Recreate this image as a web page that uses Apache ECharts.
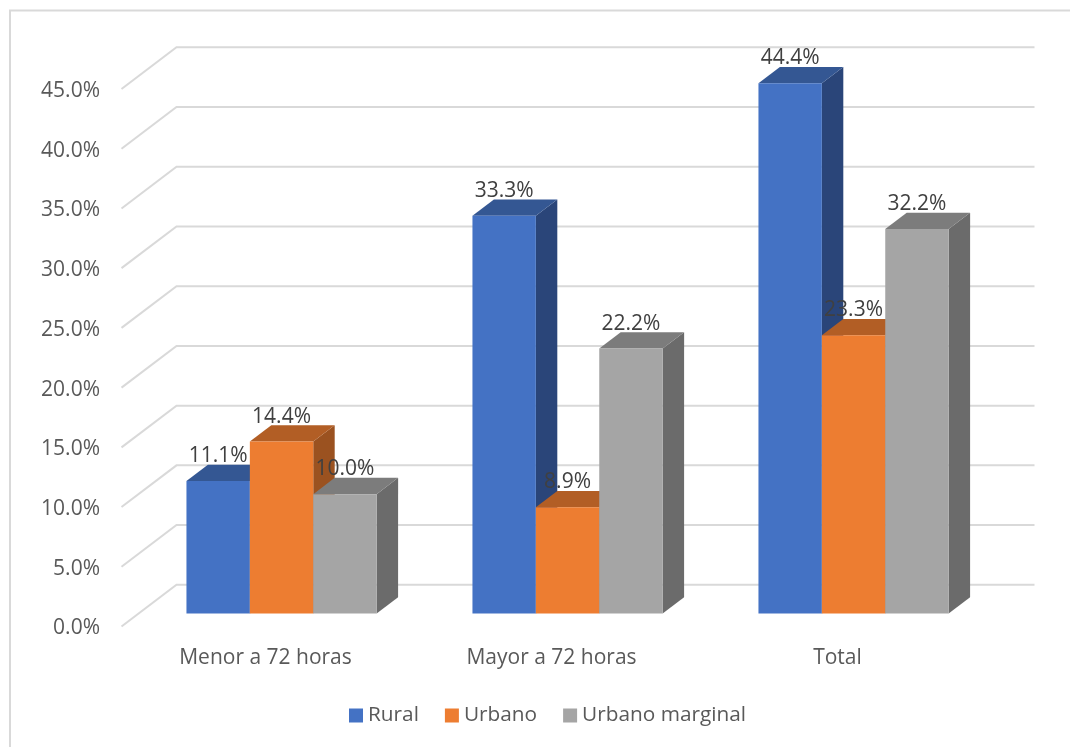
<!DOCTYPE html>
<html>
<head>
<meta charset="utf-8">
<style>html,body{margin:0;padding:0;background:#fff}#chart{width:1070px;height:747px}</style>
<script src="https://cdn.jsdelivr.net/npm/echarts@6/dist/echarts.min.js"></script>
</head>
<body>
<div id="chart"></div>
<script>
const categories = ['Menor a 72 horas', 'Mayor a 72 horas', 'Total'];
const rural = [11.1, 33.3, 44.4];
const urbano = [14.4, 8.9, 23.3];
const urbanoMarginal = [10.0, 22.2, 32.2];
const yTicks = [0, 5, 10, 15, 20, 25, 30, 35, 40, 45];

const FONT = 'Open Sans';
// Pseudo-3D projection: how far the back wall sits from the front plane, in pixels.
const WALL_DX = 55, WALL_DY = -41.7;
const BAR_NEAR = 0.31, BAR_FAR = 0.70;
const CLUSTER_SHARE = 0.665;

function pct(v) { return v.toFixed(1) + '%'; }

function wallRenderer(params, api) {
  const v = api.value(0);
  const left = api.coord([0, v]);
  const band = api.size([1, 0])[0];
  const x0 = left[0] - band / 2, y0 = left[1];
  const x1 = x0 + band * categories.length + WALL_DX;
  return {
    type: 'polyline',
    shape: { points: [[x0, y0], [x0 + WALL_DX, y0 + WALL_DY], [x1, y0 + WALL_DY]] },
    style: { stroke: '#D9D9D9', lineWidth: 2, fill: null },
    silent: true
  };
}

function barRenderer(slot, front, top, side) {
  return function (params, api) {
    const idx = api.value(0), val = api.value(1);
    const band = api.size([1, 0])[0];
    const w = band * CLUSTER_SHARE / 3;
    const head = api.coord([idx, val]);
    const foot = api.coord([idx, 0]);
    const nx = WALL_DX * BAR_NEAR, ny = WALL_DY * BAR_NEAR;
    const fx = WALL_DX * BAR_FAR, fy = WALL_DY * BAR_FAR;
    const xL = head[0] - band * CLUSTER_SHARE / 2 + slot * w + nx;
    const xR = xL + w;
    const yT = head[1] + ny, yB = foot[1] + ny;
    const ddx = fx - nx, ddy = fy - ny;
    return {
      type: 'group',
      children: [
        { type: 'polygon', shape: { points: [[xR, yT], [xR + ddx, yT + ddy], [xR + ddx, yB + ddy], [xR, yB]] }, style: { fill: side } },
        { type: 'polygon', shape: { points: [[xL, yT], [xL + ddx, yT + ddy], [xR + ddx, yT + ddy], [xR, yT]] }, style: { fill: top } },
        { type: 'rect', shape: { x: xL, y: yT, width: w, height: yB - yT }, style: { fill: front } },
        { type: 'text', z2: 10, style: { x: (xL + xR) / 2, y: yT + ddy - 8.5, text: pct(val), fill: '#404040', font: '21px "' + FONT + '"', align: 'center', verticalAlign: 'middle' } }
      ]
    };
  };
}

function barSeries(name, values, slot, front, top, side) {
  return {
    name: name,
    type: 'custom',
    coordinateSystem: 'cartesian2d',
    itemStyle: { color: front },
    encode: { x: 0, y: 1 },
    clip: false,
    data: values.map(function (v, i) { return [i, v]; }),
    renderItem: barRenderer(slot, front, top, side)
  };
}

const chart = echarts.init(document.getElementById('chart'), null, { renderer: 'canvas' });
chart.setOption({
  animation: false,
  backgroundColor: '#fff',
  textStyle: { fontFamily: FONT },
  grid: { left: 121.5, right: 90.5, top: 89, bottom: 120.5 },
  xAxis: {
    type: 'category',
    data: categories,
    axisLine: { show: false },
    axisTick: { show: false },
    axisLabel: { color: '#595959', fontSize: 21, fontFamily: FONT, margin: 21, padding: [0, 0, 0, 2] }
  },
  yAxis: {
    type: 'value',
    min: 0,
    max: 45,
    interval: 5,
    splitLine: { show: false },
    axisLine: { show: false },
    axisTick: { show: false },
    // A short line box anchored at its top drops the labels slightly below each tick.
    axisLabel: { color: '#595959', fontSize: 21, fontFamily: FONT, margin: 21.5, verticalAlign: 'top', lineHeight: 4, formatter: function (v) { return pct(v); } }
  },
  legend: {
    data: ['Rural', 'Urbano', 'Urbano marginal'],
    left: 349,
    top: 705,
    icon: 'rect',
    itemWidth: 14,
    itemHeight: 14,
    itemGap: 26,
    textStyle: { color: '#595959', fontSize: 20.8, fontFamily: FONT },
    selectedMode: false,
    padding: 0
  },
  graphic: [{
    type: 'polyline',
    shape: { points: [[10, 747], [10, 10.5], [1070, 10.5]] },
    style: { stroke: '#D9D9D9', lineWidth: 2, fill: null },
    silent: true
  }],
  series: [
    {
      name: 'walls',
      type: 'custom',
      coordinateSystem: 'cartesian2d',
      encode: { y: 0 },
      clip: false,
      silent: true,
      z: 1,
      data: yTicks.map(function (t) { return [t]; }),
      renderItem: wallRenderer
    },
    barSeries('Rural', rural, 0, '#4472C4', '#345793', '#2A4579'),
    barSeries('Urbano', urbano, 1, '#ED7D31', '#B25E25', '#9B5220'),
    barSeries('Urbano marginal', urbanoMarginal, 2, '#A5A5A5', '#7C7C7C', '#6B6B6B')
  ]
});
</script>
</body>
</html>
